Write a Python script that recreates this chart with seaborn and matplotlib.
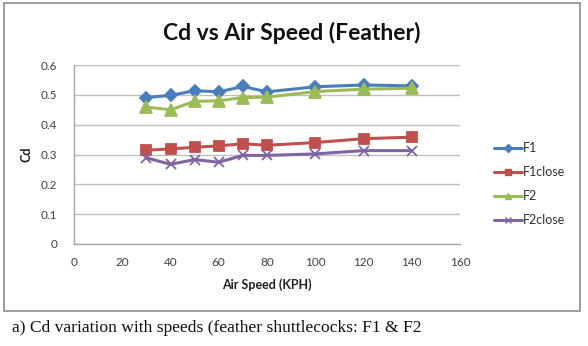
import numpy as np
import pandas as pd
import matplotlib
matplotlib.use("Agg")
import matplotlib.pyplot as plt
from matplotlib.patches import Rectangle
from matplotlib.lines import Line2D
import seaborn as sns

# Air speed (KPH) and drag coefficient for each shuttlecock configuration
speed = [30, 40, 50, 60, 70, 80, 100, 120, 140]
f1 = [0.491, 0.498, 0.514, 0.510, 0.528, 0.510, 0.527, 0.533, 0.530]
f1_close = [0.314, 0.319, 0.324, 0.329, 0.336, 0.331, 0.340, 0.353, 0.358]
f2 = [0.459, 0.450, 0.478, 0.480, 0.491, 0.492, 0.511, 0.519, 0.522]
f2_close = [0.289, 0.267, 0.283, 0.274, 0.297, 0.297, 0.302, 0.313, 0.313]

series_names = ["F1", "F1close", "F2", "F2close"]
x_ticks = [0, 20, 40, 60, 80, 100, 120, 140, 160]
y_ticks = [0, 0.1, 0.2, 0.3, 0.4, 0.5, 0.6]

df = pd.DataFrame({
    "speed": speed * 4,
    "cd": f1 + f1_close + f2 + f2_close,
    "series": np.repeat(series_names, len(speed)),
})

sns.set_theme(style="white")
plt.rcParams["font.family"] = ["Lato", "DejaVu Sans"]

palette = {"F1": "#4A7EBB", "F1close": "#C0504D", "F2": "#9BBB59", "F2close": "#8064A2"}
markers = {"F1": "D", "F1close": "s", "F2": "^", "F2close": "x"}
msizes = {"F1": 6, "F1close": 7, "F2": 8, "F2close": 7}

fig = plt.figure(figsize=(5.88, 3.46), dpi=100)
fig.patch.set_facecolor("white")

# chart border
fig.patches.append(Rectangle((4 / 588, 1 - 311 / 346), 576 / 588, 308 / 346,
                             transform=fig.transFigure, fill=False,
                             edgecolor="#8C8C8C", linewidth=1.2))

ax = fig.add_axes([74 / 588, 1 - 244 / 346, 386 / 588, 179 / 346])
for name in series_names:
    sub = df[df["series"] == name]
    sns.lineplot(data=sub, x="speed", y="cd", color=palette[name],
                 marker=markers[name], markersize=msizes[name],
                 markeredgecolor=palette[name], markerfacecolor=palette[name],
                 markeredgewidth=1.3, linewidth=2.2, ax=ax, legend=False)

ax.set_xlim(0, 160)
ax.set_ylim(0, 0.6)
ax.set_xticks(x_ticks)
ax.set_yticks(y_ticks)
ax.set_xticklabels([str(v) for v in x_ticks])
ax.set_yticklabels(["0" if v == 0 else f"{v:.1f}" for v in y_ticks])
ax.tick_params(axis="both", length=0, labelsize=8.5, colors="#404040")
ax.tick_params(axis="y", pad=12)
ax.tick_params(axis="x", pad=9)
ax.yaxis.grid(True, color="#BFBFBF", linewidth=1)
ax.xaxis.grid(False)
ax.set_axisbelow(True)
for side in ["top", "right"]:
    ax.spines[side].set_visible(False)
for side in ["left", "bottom"]:
    ax.spines[side].set_color("#A6A6A6")
    ax.spines[side].set_linewidth(1)

ax.set_xlabel("Air Speed (KPH)", fontsize=9, fontweight="bold", color="#202020", labelpad=8)
ax.set_ylabel("Cd", fontsize=9, fontweight="bold", color="#202020", labelpad=6)

fig.text(292 / 588, 1 - 33 / 346, "Cd vs Air Speed (Feather)", ha="center", va="center",
         fontsize=16.5, fontweight="bold", color="#111111")

# legend
handles = [Line2D([], [], color=palette[n], marker=markers[n], linewidth=2.2,
                  markersize=4, markeredgecolor=palette[n], markerfacecolor=palette[n])
           for n in series_names]
fig.legend(handles, series_names, loc="upper left", bbox_to_anchor=(488 / 588, 1 - 136 / 346),
           frameon=False, fontsize=9, handlelength=2.2, handletextpad=0.1,
           labelspacing=0.95, borderpad=0, labelcolor="#303030")

fig.text(12 / 588, 1 - 328 / 346, "a) Cd variation with speeds (feather shuttlecocks: F1 & F2",
         ha="left", va="center", fontsize=12.6, family="Liberation Serif", color="#111111")

fig.savefig("out.png", dpi=100)
